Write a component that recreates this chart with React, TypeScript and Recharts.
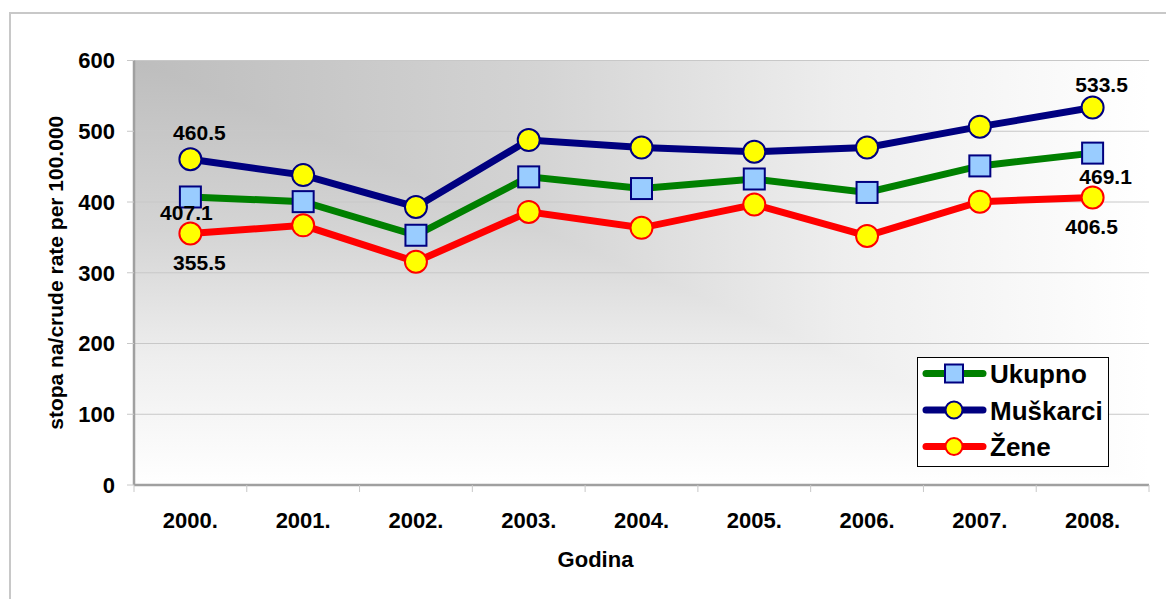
import React from 'react';
import { LineChart, Line, XAxis, YAxis, CartesianGrid, Legend, LabelList } from 'recharts';

const years = ['2000.', '2001.', '2002.', '2003.', '2004.', '2005.', '2006.', '2007.', '2008.'];
const ukupno = [407.1, 400.5, 353, 435.5, 419, 432.5, 413.5, 451, 469.1];
const muskarci = [460.5, 438, 393, 487.5, 477, 471, 477, 506.5, 533.5];
const zene = [355.5, 367, 315.5, 386, 363.5, 396.5, 352, 400.5, 406.5];
const yTicks = [0, 100, 200, 300, 400, 500, 600];
const seriesNames = ['Ukupno', 'Muškarci', 'Žene'];
const xTitle = 'Godina';
const yTitle = 'stopa na/crude rate per 100.000';

const data = years.map((year, i) => ({ year, ukupno: ukupno[i], muskarci: muskarci[i], zene: zene[i] }));

const FONT = '"Liberation Sans", Arial, Helvetica, sans-serif';
const GREEN = '#008000';
const NAVY = '#000080';
const RED = '#ff0000';
const YELLOW = '#ffff00';
const LIGHTBLUE = '#99ccff';
const HALF_BAND = 1015 / 18;

const makeLabel = (first: [number, number], last: [number, number]) => (props: any) => {
  const { x, y, value, index } = props;
  if (index !== 0 && index !== years.length - 1) return null;
  const o = index === 0 ? first : last;
  return (
    <text
      x={x + o[0]}
      y={y + o[1]}
      textAnchor="middle"
      dominantBaseline="central"
      fontFamily={FONT}
      fontWeight="bold"
      fontSize={21}
      fill="#000"
    >
      {value}
    </text>
  );
};

const SquareDot = (props: any) => {
  const { cx, cy, index } = props;
  if (cx == null || cy == null) return null;
  return (
    <rect
      key={`sq-${index}`}
      x={cx - 10.5}
      y={cy - 10.5}
      width={21}
      height={21}
      fill={LIGHTBLUE}
      stroke={NAVY}
      strokeWidth={2}
    />
  );
};

const XTick = (props: any) => {
  const { x, y, payload, index, visibleTicksCount } = props;
  const half = payload && payload.offset ? payload.offset : HALF_BAND;
  return (
    <g>
      <line x1={x - half} x2={x - half} y1={y} y2={y + 7} stroke="#c8c8c8" strokeWidth={1} />
      {index === visibleTicksCount - 1 ? (
        <line x1={x + half} x2={x + half} y1={y} y2={y + 7} stroke="#c8c8c8" strokeWidth={1} />
      ) : null}
      <text x={x} y={y + 43} textAnchor="middle" fontFamily={FONT} fontWeight="bold" fontSize={22} fill="#000">
        {payload.value}
      </text>
    </g>
  );
};

const renderLegend = () => {
  const rows = [
    { name: seriesNames[0], color: GREEN, marker: 'square', edge: NAVY, cy: 16.5 },
    { name: seriesNames[1], color: NAVY, marker: 'circle', edge: NAVY, cy: 53 },
    { name: seriesNames[2], color: RED, marker: 'circle', edge: RED, cy: 89.5 },
  ];
  return (
    <svg width={192} height={110} style={{ display: 'block' }}>
      <rect x={0.5} y={0.5} width={191} height={109} fill="#ffffff" stroke="#000" strokeWidth={1} />
      {rows.map((r) => (
        <g key={r.name}>
          <line x1={9} x2={66} y1={r.cy} y2={r.cy} stroke={r.color} strokeWidth={7} strokeLinecap="round" />
          {r.marker === 'square' ? (
            <rect x={28} y={r.cy - 9} width={18} height={18} fill={LIGHTBLUE} stroke={NAVY} strokeWidth={2} />
          ) : (
            <circle cx={37} cy={r.cy} r={8.5} fill={YELLOW} stroke={r.edge} strokeWidth={2} />
          )}
          <text x={73} y={r.cy + 9.5} fontFamily={FONT} fontWeight="bold" fontSize={26} fill="#000">
            {r.name}
          </text>
        </g>
      ))}
    </svg>
  );
};

export default function App() {
  return (
    <div style={{ position: 'relative', width: 1158, height: 591, overflow: 'hidden', background: '#fff' }}>
      <div
        style={{
          position: 'absolute',
          left: 1,
          top: 4,
          width: 1200,
          height: 700,
          border: '2px solid #c8c8c8',
          boxSizing: 'border-box',
        }}
      />
      <div style={{ position: 'absolute', left: 0, top: 0 }}>
        <LineChart width={1158} height={591} data={data} margin={{ top: 52.5, right: 17, bottom: 34, left: 0 }}>
          <defs>
            <linearGradient id="gh" x1="0" y1="0" x2="1" y2="0">
              <stop offset="0" stopColor="#bdbdbd" />
              <stop offset="0.4" stopColor="#d4d4d4" />
              <stop offset="0.7" stopColor="#eeeeee" />
              <stop offset="1" stopColor="#ffffff" />
            </linearGradient>
            <linearGradient id="gv" x1="0" y1="0" x2="0" y2="1">
              <stop offset="0" stopColor="#bdbdbd" />
              <stop offset="0.4" stopColor="#d4d4d4" />
              <stop offset="0.7" stopColor="#eeeeee" />
              <stop offset="1" stopColor="#ffffff" />
            </linearGradient>
            <pattern id="bgPat" patternUnits="objectBoundingBox" patternContentUnits="objectBoundingBox" width="1" height="1">
              <rect x="0" y="0" width="1" height="1" fill="url(#gh)" />
              <rect x="0" y="0" width="1" height="1" fill="url(#gv)" style={{ mixBlendMode: 'lighten' }} />
            </pattern>
          </defs>
          <CartesianGrid vertical={false} stroke="#c8c8c8" strokeWidth={1} fill="url(#bgPat)" fillOpacity={1} />
          <XAxis
            dataKey="year"
            height={80}
            padding={{ left: HALF_BAND, right: HALF_BAND }}
            tickSize={0}
            tickMargin={0}
            tickLine={false}
            interval={0}
            tick={<XTick />}
            axisLine={{ stroke: '#a0a0a0', strokeWidth: 2.5 }}
            label={{
              content: (p: any) => {
                const vb = p.viewBox || { x: 126, y: 477, width: 1015 };
                return (
                  <text
                    x={vb.x + vb.width / 2 - 46}
                    y={vb.y + 82}
                    textAnchor="middle"
                    fontFamily={FONT}
                    fontWeight="bold"
                    fontSize={22}
                    fill="#000"
                  >
                    {xTitle}
                  </text>
                );
              },
            }}
          />
          <XAxis xAxisId="top" dataKey="year" orientation="top" height={0} tick={false} tickLine={false} axisLine={{ stroke: '#a0a0a0', strokeWidth: 2.5 }} />
          <YAxis
            width={126}
            domain={[0, 600]}
            ticks={yTicks}
            interval={0}
            tickSize={7}
            tickMargin={12}
            tickLine={{ stroke: '#c8c8c8' }}
            axisLine={{ stroke: '#a0a0a0', strokeWidth: 2.5 }}
            tick={{ fontFamily: FONT, fontWeight: 'bold', fontSize: 22, fill: '#000' }}
            label={{
              content: (p: any) => {
                const vb = p.viewBox || { x: 0, y: 52.5, height: 424 };
                const cx = vb.x + 47;
                const cy = vb.y + vb.height / 2;
                return (
                  <text
                    x={cx}
                    y={cy}
                    transform={`rotate(-90 ${cx} ${cy})`}
                    textAnchor="middle"
                    dominantBaseline="central"
                    fontFamily={FONT}
                    fontWeight="bold"
                    fontSize={21}
                    fill="#000"
                  >
                    {yTitle}
                  </text>
                );
              },
            }}
          />
          <YAxis yAxisId="right" orientation="right" width={0} domain={[0, 600]} tick={false} tickLine={false} axisLine={{ stroke: '#a0a0a0', strokeWidth: 2.5 }} />
          <Legend
            layout="vertical"
            align="center"
            verticalAlign="middle"
            content={renderLegend}
            wrapperStyle={{ position: 'absolute', left: 909, top: 349, width: 192, height: 110 }}
          />
          <Line
            type="linear"
            dataKey="ukupno"
            name={seriesNames[0]}
            stroke={GREEN}
            strokeWidth={7}
            dot={<SquareDot />}
            activeDot={false}
            isAnimationActive={false}
          >
            <LabelList dataKey="ukupno" content={makeLabel([-4, 16], [13, 23])} />
          </Line>
          <Line
            type="linear"
            dataKey="muskarci"
            name={seriesNames[1]}
            stroke={NAVY}
            strokeWidth={7}
            dot={{ r: 11, fill: YELLOW, stroke: NAVY, strokeWidth: 2 }}
            activeDot={false}
            isAnimationActive={false}
          >
            <LabelList dataKey="muskarci" content={makeLabel([9, -27], [9, -23])} />
          </Line>
          <Line
            type="linear"
            dataKey="zene"
            name={seriesNames[2]}
            stroke={RED}
            strokeWidth={7}
            dot={{ r: 11, fill: YELLOW, stroke: RED, strokeWidth: 2 }}
            activeDot={false}
            isAnimationActive={false}
          >
            <LabelList dataKey="zene" content={makeLabel([9, 29], [-1, 29])} />
          </Line>
        </LineChart>
      </div>
    </div>
  );
}
